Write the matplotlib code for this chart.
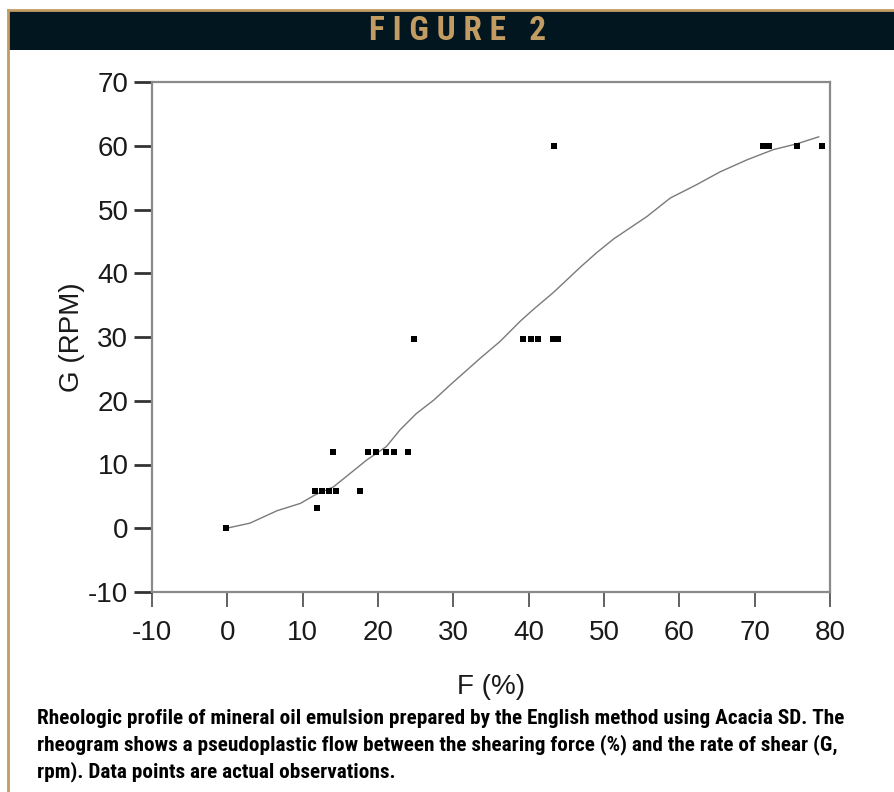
import matplotlib
matplotlib.use("Agg")
import matplotlib.pyplot as plt
from matplotlib.patches import Rectangle
from matplotlib.lines import Line2D

plt.rcParams["axes.unicode_minus"] = False

# ---- data ----
F_obs = [-0.2, 11.9, 11.7, 12.6, 13.5, 14.4, 17.6, 14.0, 18.7, 19.8, 21.0, 22.1, 24.0,
         24.8, 39.3, 40.3, 41.3, 43.2, 43.9, 43.3, 71.1, 71.9, 75.6, 79.0]
G_obs = [0, 3.2, 5.8, 5.8, 5.8, 5.8, 5.8, 12, 12, 12, 12, 12, 12,
         29.7, 29.7, 29.7, 29.7, 29.7, 29.7, 60, 60, 60, 60, 60]

F_fit = [-0.1, 3.0, 6.6, 9.7, 11.6, 14.1, 16.3, 18.5, 21.1, 22.9, 25.1, 27.4, 29.6,
         31.6, 33.6, 36.2, 38.9, 40.6, 43.3, 46.9, 49.0, 51.3, 55.7, 58.8, 62.3,
         65.4, 69.0, 72.5, 75.6, 78.5]
G_fit = [0.0, 0.8, 2.75, 3.9, 5.2, 6.5, 8.6, 10.7, 12.8, 15.4, 18.0, 20.1, 22.5,
         24.6, 26.7, 29.3, 32.5, 34.3, 37.0, 41.0, 43.2, 45.4, 48.9, 51.8, 53.9,
         55.9, 57.8, 59.4, 60.3, 61.4]

x_ticks = [-10, 0, 10, 20, 30, 40, 50, 60, 70, 80]
y_ticks = [-10, 0, 10, 20, 30, 40, 50, 60, 70]

header_text = "F I G U R E   2"
caption_lines = [
    "Rheologic profile of mineral oil emulsion prepared by the English method using Acacia SD. The",
    "rheogram shows a pseudoplastic flow between the shearing force (%) and the rate of shear (G,",
    "rpm). Data points are actual observations.",
]
x_label = "F (%)"
y_label = "G (RPM)"

W, H = 894, 792
NAVY = "#021620"
GOLD = "#c29c63"
NARROW = ["Liberation Sans Narrow", "Roboto Condensed", "DejaVu Sans"]
SANS = ["Liberation Sans", "DejaVu Sans"]

fig = plt.figure(figsize=(W / 100, H / 100), dpi=100)
fig.patch.set_facecolor("white")

def fx(px):
    return px / W

def fy(py):
    return 1 - py / H

# header band
fig.patches.append(Rectangle((fx(9), fy(50)), 1 - fx(9), fy(10) - fy(50),
                             transform=fig.transFigure, facecolor=NAVY,
                             edgecolor="none", zorder=0))
fig.lines.append(Line2D([fx(8), 1], [fy(10), fy(10)], transform=fig.transFigure,
                        color=GOLD, lw=2))
fig.lines.append(Line2D([fx(8), fx(8)], [fy(10), 0], transform=fig.transFigure,
                        color=GOLD, lw=2))
fig.text(fx(458), fy(31), header_text, color=GOLD, fontsize=24, fontweight="bold",
         family=NARROW, ha="center", va="center")

# axes
ax = fig.add_axes([fx(152), fy(592), fx(830) - fx(152), fy(82) - fy(592)])
ax.set_xlim(-10, 80)
ax.set_ylim(-10, 70)
ax.plot(F_fit, G_fit, color="#7a7a7a", lw=1.0, zorder=2)
ax.plot(F_obs, G_obs, linestyle="none", marker="s", markersize=4.3,
        color="black", markeredgewidth=0, zorder=3)

ax.set_xticks(x_ticks)
ax.set_yticks(y_ticks)
for s in ax.spines.values():
    s.set_color("#8a8a8a")
    s.set_linewidth(1.6)
ax.tick_params(axis="x", direction="out", length=11, width=1.3, color="#555555",
               pad=9, labelsize=20)
ax.tick_params(axis="y", direction="out", length=13, width=2, color="#333333",
               pad=4, labelsize=20)
for lab in ax.get_xticklabels() + ax.get_yticklabels():
    lab.set_family(SANS)
    lab.set_color("#1a1a1a")

ax.set_xlabel(x_label, fontsize=20, family=SANS, color="#1a1a1a", labelpad=20)
ax.set_ylabel(y_label, fontsize=20, family=SANS, color="#1a1a1a", labelpad=2)

# caption
for i, line in enumerate(caption_lines):
    fig.text(fx(37), fy(718 + 27 * i), line, fontsize=15.3, fontweight="bold",
             family=NARROW, color="black", ha="left", va="center")

fig.savefig("out.png", dpi=100)
